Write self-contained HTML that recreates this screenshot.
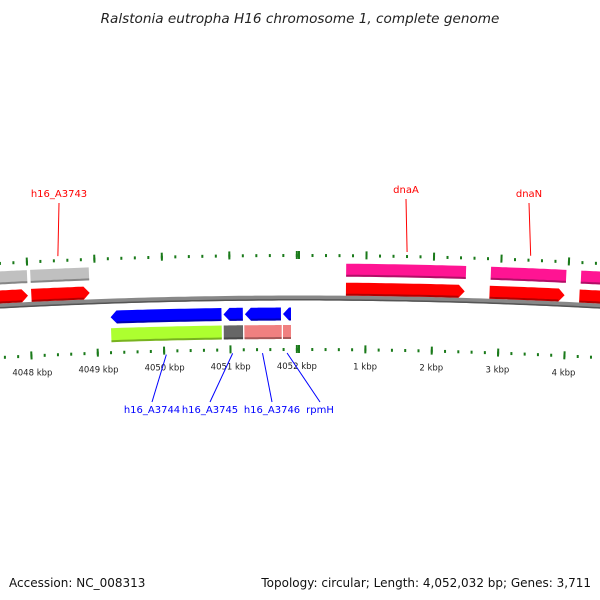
<!DOCTYPE html>
<html><head><meta charset="utf-8"><style>
body{margin:0;background:#fff;}
svg{display:block;font-family:"DejaVu Sans","Liberation Sans",sans-serif;}
</style></head><body>
<svg id="map" width="600" height="600" viewBox="0 0 600 600">
<text x="300" y="23" text-anchor="middle" font-size="13.6" font-style="italic" fill="#222">Ralstonia eutropha H16 chromosome 1, complete genome</text>
<g id="ticks"></g>
<g id="feats"></g>
<g id="labels"></g>
<text x="9" y="587" font-size="12" fill="#111">Accession: NC_008313</text>
<text x="591" y="587" text-anchor="end" font-size="12" fill="#111">Topology: circular; Length: 4,052,032 bp; Genes: 3,711</text>
</svg>
<script>
// Data (positions in kbp, genome length 4052.032)
const genomeLen = 4052.032;
const majorTicksKbp = [4048, 4049, 4050, 4051, 4052, 0, 1, 2, 3, 4];
const majorTickLabels = ["4048 kbp","4049 kbp","4050 kbp","4051 kbp","4052 kbp","","1 kbp","2 kbp","3 kbp","4 kbp"];
const fwdOuterGenes = [[-4.6,-4.04,"#c0c0c0"],[-3.99,-3.12,"#c0c0c0"],[0.70,2.48,"#ff1493"],[2.85,3.97,"#ff1493"],[4.19,4.8,"#ff1493"]];
const fwdCds = [[-4.6,-4.04],[-3.99,-3.12],[0.70,2.47],[2.84,3.96],[4.18,4.8]];
const revCds = [[-2.82,-1.16],[-1.13,-0.84],[-0.81,-0.27],[-0.24,-0.12]];
const revOuterGenes = [[-2.82,-1.16,"#adff2f"],[-1.13,-0.84,"#666666"],[-0.82,-0.26,"#f08080"],[-0.24,-0.12,"#f08080"]];
const fwdLabels = [["h16_A3743",-3.57,59,194],["dnaA",1.60,406,190],["dnaN",3.43,529,194]];
const revLabels = [["h16_A3744",-2.0,152,413],["h16_A3745",-1.0,210,413],["h16_A3746",-0.55,272,413],["rpmH",-0.18,320,413]];

const NS="http://www.w3.org/2000/svg";
const R=5600, cx=299, cy=298+R, PX=67;
function rel(k){ return k>2000 ? k-genomeLen : k; }
function pt(p,off){ const t=p*PX/R, r=R+off; return [cx+r*Math.sin(t), cy-r*Math.cos(t)]; }
function mk(tag,attrs,parent){ const e=document.createElementNS(NS,tag); for(const k in attrs) e.setAttribute(k,attrs[k]); parent.appendChild(e); return e; }
const T=document.getElementById('ticks'), F=document.getElementById('feats'), L=document.getElementById('labels');

let d="";
for(let p=-5;p<=5.01;p+=0.1){ const q=pt(p,0); d+=(d?"L":"M")+q[0].toFixed(1)+","+q[1].toFixed(1); }
let bb=mk('path',{d:d,stroke:"#888",'stroke-width':5,fill:"none"},F);


let bb2=mk('path',{d:d,stroke:"#555",'stroke-width':1.5,fill:"none",transform:"translate(0,1.8)"},F);



function band(s,e,off,h,color,arrow,name){
  const a=0.09, pts=[];
  let bs=s, be=e;
  if(arrow==='f') be=e-a; if(arrow==='r') bs=s+a;
  const n=20;
  for(let i=0;i<=n;i++){ pts.push(pt(bs+(be-bs)*i/n,off+h/2)); }
  if(arrow==='f') pts.push(pt(e,off));
  for(let i=n;i>=0;i--){ pts.push(pt(bs+(be-bs)*i/n,off-h/2)); }
  if(arrow==='r') pts.push(pt(s,off));
  const el=mk('polygon',{points:pts.map(q=>q[0].toFixed(1)+","+q[1].toFixed(1)).join(" "),fill:color},F);
  
  
  const sh=[];
  for(let i=0;i<=n;i++){ sh.push(pt(bs+(be-bs)*i/n,off-h/2+1)); }
  const s2=mk('polyline',{points:sh.map(q=>q[0].toFixed(1)+","+q[1].toFixed(1)).join(" "),stroke:"rgba(0,0,0,0.3)",'stroke-width':2,fill:"none"},F);
  
  
}
fwdOuterGenes.forEach(g=>band(g[0],g[1],28,13,g[2],null,'forward-gene'));
fwdCds.forEach(g=>band(g[0],g[1],9,13,"#ff0000",'f','forward-cds'));
revCds.forEach(g=>band(g[0],g[1],-16,13,"#0000ff",'r','reverse-cds'));
revOuterGenes.forEach(g=>band(g[0],g[1],-34,14,g[2],null,'reverse-gene'));

// minor ticks every 0.2 kbp in absolute coordinates
for(let i=4047*5;i<=4052*5;i++){
  [i/5, (i/5)-4052+4.8>0 ? null : null];
}
const minorList=[];
for(let i=4047*5;i<4052*5+1;i++) minorList.push(i/5);
for(let i=0;i<=5*5;i++) minorList.push(i/5);
minorList.forEach(k=>{
  const p=rel(k);
  [43,-51].forEach(off=>{
    const q=pt(p,off);
    const c=mk('rect',{x:q[0]-1,y:q[1]-1,width:2,height:3,fill:"#1a7a1a"},T);
    
    
  });
});
majorTicksKbp.forEach((k,i)=>{
  const p=rel(k);
  [43,-51].forEach(off=>{
    const a=pt(p,off-4), b=pt(p,off+4);
    const ln=mk('line',{x1:a[0],y1:a[1],x2:b[0],y2:b[1],stroke:"#1a7a1a",'stroke-width':2},T);
    
    
  });
  if(majorTickLabels[i]){
    const q=pt(p,-71);
    const t=mk('text',{x:q[0].toFixed(1),y:q[1].toFixed(1),'text-anchor':'middle','font-size':8.5,fill:"#222"},T);
    t.textContent=majorTickLabels[i];
    
    
  }
});

fwdLabels.forEach(l=>{
  const a=pt(l[1],47);
  const ln=mk('line',{x1:a[0],y1:a[1],x2:l[2],y2:l[3]+9,stroke:"#f00",'stroke-width':1},L);
  
  
  const t=mk('text',{x:l[2],y:l[3]+3,'text-anchor':'middle','font-size':10,fill:"#f00"},L);
  t.textContent=l[0];
  
  
});
revLabels.forEach(l=>{
  const a=pt(l[1],-55);
  const ln=mk('line',{x1:a[0],y1:a[1],x2:l[2],y2:l[3]-11,stroke:"#00f",'stroke-width':1},L);
  
  
  const t=mk('text',{x:l[2],y:l[3],'text-anchor':'middle','font-size':10,fill:"#00f"},L);
  t.textContent=l[0];
  
  
});
</script>
</body></html>
